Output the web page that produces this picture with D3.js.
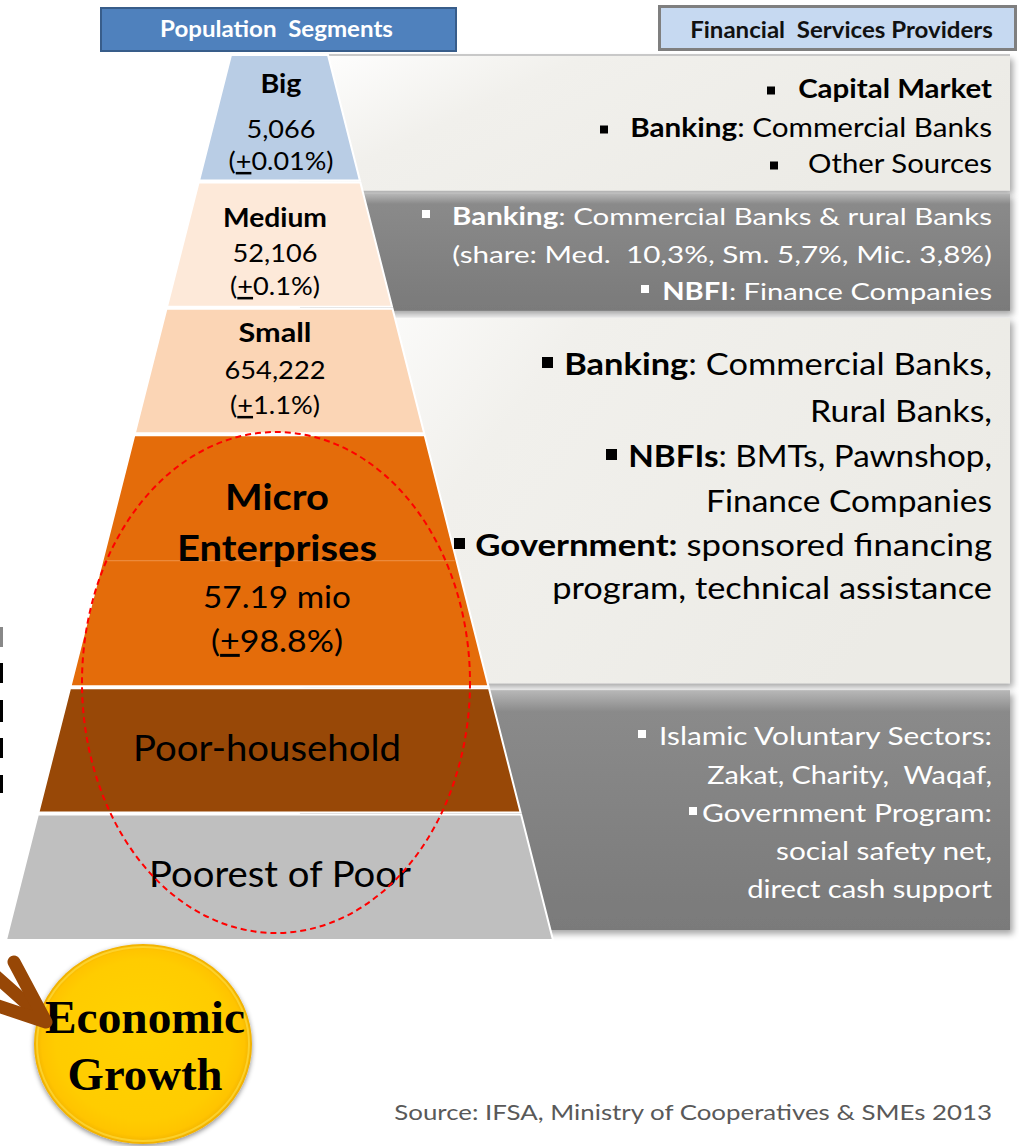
<!DOCTYPE html>
<html><head><meta charset="utf-8">
<script src="https://cdn.jsdelivr.net/npm/d3@7/dist/d3.min.js"></script>
<style>html,body{margin:0;padding:0;background:#fff;overflow:hidden}svg{display:block}text{white-space:pre}</style>
</head><body><script>
// ---------------- DATA ----------------
const segmentNames = [["Big"], ["Medium"], ["Small"], ["Micro", "Enterprises"], ["Poor-household"], ["Poorest of Poor"]];
const segmentCounts = ["5,066", "52,106", "654,222", "57.19 mio", "", ""];
const segmentGrowth = ["0.01%", "0.1%", "1.1%", "98.8%", "", ""];
const segmentSpan = [1, 1, 1, 2, 1, 1];
const headerTitles = ["Population  Segments", "Financial  Services Providers"];

const providersBig = [
  {bullet: true, parts: [["b", "Capital Market"]]},
  {bullet: true, parts: [["b", "Banking"], ["r", ": Commercial Banks"]]},
  {bullet: true, parts: [["r", "Other Sources"]]}
];
const providersMedium = [
  {bullet: true, parts: [["b", "Banking"], ["r", ": Commercial Banks & rural Banks"]]},
  {bullet: false, parts: [["r", "(share: Med.  10,3%, Sm. 5,7%, Mic. 3,8%)"]]},
  {bullet: true, parts: [["b", "NBFI"], ["r", ": Finance Companies"]]}
];
const providersSmallMicro = [
  {bullet: true, parts: [["b", "Banking"], ["r", ": Commercial Banks,"]]},
  {bullet: false, parts: [["r", "Rural Banks,"]]},
  {bullet: true, parts: [["b", "NBFIs"], ["r", ": BMTs, Pawnshop,"]]},
  {bullet: false, parts: [["r", "Finance Companies"]]},
  {bullet: true, parts: [["b", "Government:"], ["r", " sponsored financing"]]},
  {bullet: false, parts: [["r", "program, technical assistance"]]}
];
const providersPoor = [
  {bullet: true, parts: [["r", "Islamic Voluntary Sectors:"]]},
  {bullet: false, parts: [["r", "Zakat, Charity,  Waqaf,"]]},
  {bullet: true, parts: [["r", "Government Program:"]]},
  {bullet: false, parts: [["r", "social safety net,"]]},
  {bullet: false, parts: [["r", "direct cash support"]]}
];
const growthLabel = ["Economic", "Growth"];
const sourceNote = "Source: IFSA, Ministry of Cooperatives & SMEs 2013";

// ---------------- STYLE / LAYOUT ----------------
const W = 1019, H = 1146;
const FONT = "Lato, 'Open Sans', 'DejaVu Sans', sans-serif";
const SERIF = "'Liberation Serif', 'Times New Roman', serif";
const segColors = ["#b9cde5", "#fde9d9", "#fbd5b5", "#e46c0a", "#984807", "#bfbfbf"];
const labelX = [281, 275, 275, 277, 267, 280];
const labelBase = [[93, 138, 170], [227, 262, 295], [342, 379, 414], [510, 561, 608, 652], [761], [887]];
const labelSize = [[26, 25, 25], [26, 25, 25], [26, 25, 25], [37, 37, 30, 30], [36], [37]];
const labelWidth = [[41, 69, 105], [104, 85, 90], [73, 101, 90], [104, 200, 148, 132], [268], [262]];

const panels = [
  {rows: [0, 1], off: [0, 9], theme: "light", lines: providersBig, size: 26,
   base: [98, 137, 173], start: [798, 630, 808], bx: [767, 600, 770], bs: 8, bo: 7.5},
  {rows: [1, 2], off: [12, 3], theme: "dark", lines: providersMedium, size: 24,
   base: [225, 263, 300], start: [452, 452, 662], bx: [422, null, 641], bs: 8, bo: 11},
  {rows: [2, 5], off: [10, -4], theme: "light", lines: providersSmallMicro, size: 30,
   base: [375, 422, 467, 512, 556, 599], start: [564, 810, 628, 706, 475, 552], bx: [542, null, 606, null, 454, null], bs: 11, bo: 12.5},
  {rows: [5, 7], off: [3, -10], theme: "dark", lines: providersPoor, size: 25,
   base: [745, 784, 822, 860, 898], start: [659, 707, 702, 776, 747], bx: [638, null, 689, null, null], bs: 8, bo: 11}
];
const textRight = 992;

// ---------------- SCALES ----------------
const bounds = Array.from(d3.cumsum([0, ...segmentSpan]));
const y = d3.scaleLinear().domain([0, d3.sum(segmentSpan)]).range([55, 940]);
const half = d3.scaleLinear().domain([55, 940]).range([48.5, 273.5]);
const cx = 279.5;

const svg = d3.select("body").append("svg").attr("width", W).attr("height", H);
const defs = svg.append("defs");

const sh = defs.append("filter").attr("id", "sh").attr("x", "-5%").attr("y", "-10%").attr("width", "115%").attr("height", "130%");
sh.append("feDropShadow").attr("dx", 3).attr("dy", 4).attr("stdDeviation", 3).attr("flood-color", "#000").attr("flood-opacity", 0.35);
const sh2 = defs.append("filter").attr("id", "sh2").attr("x", "-20%").attr("y", "-20%").attr("width", "140%").attr("height", "140%");
sh2.append("feDropShadow").attr("dx", 0).attr("dy", 2).attr("stdDeviation", 2.5).attr("flood-color", "#000").attr("flood-opacity", 0.45);

const gl = defs.append("linearGradient").attr("id", "gLight").attr("x1", 0).attr("y1", 0).attr("x2", 1).attr("y2", 0.4);
[["0%", "#ffffff"], ["35%", "#f1f0ec"], ["100%", "#ecebe6"]].forEach(s => gl.append("stop").attr("offset", s[0]).attr("stop-color", s[1]));
const gd = defs.append("linearGradient").attr("id", "gDark").attr("x1", 0).attr("y1", 0).attr("x2", 0).attr("y2", 1);
[["0%", "#b8b8b8"], ["9%", "#8a8a8a"], ["100%", "#7a7a7a"]].forEach(s => gd.append("stop").attr("offset", s[0]).attr("stop-color", s[1]));
const gy = defs.append("radialGradient").attr("id", "gYel").attr("cx", "50%").attr("cy", "50%").attr("r", "50%").attr("fx", "50%").attr("fy", "40%");
[["0%", "#ffd200"], ["80%", "#ffcc00"], ["93%", "#ffc400"], ["100%", "#f0b000"]].forEach(s => gy.append("stop").attr("offset", s[0]).attr("stop-color", s[1]));

function placeText(parent, o) {
  const g = parent.append("g");
  const t = g.append("text").attr("text-anchor", o.anchor || "middle")
    .attr("font-family", o.family || FONT).attr("font-size", o.size).attr("fill", o.fill || "#000");
  o.parts.forEach(p => {
    t.append("tspan").attr("font-weight", p.bold ? 700 : 400)
      .attr("text-decoration", p.u ? "underline" : null).text(p.text);
  });
  const w = t.node().getComputedTextLength();
  const sx = o.width ? o.width / w : 1;
  g.attr("transform", `translate(${o.x},${o.y}) scale(${sx},1)`);
  return g;
}

// ---------------- PANELS ----------------
const gPanels = svg.append("g");
panels.forEach(p => {
  const y0 = y(p.rows[0]) + p.off[0], y1 = y(p.rows[1]) + p.off[1];
  gPanels.append("rect").attr("x", 300).attr("y", y0).attr("width", 710).attr("height", y1 - y0)
    .attr("fill", p.theme === "light" ? "url(#gLight)" : "url(#gDark)").attr("filter", "url(#sh)");
});
gPanels.append("line").attr("x1", 300).attr("x2", 1010).attr("y1", 55).attr("y2", 55).attr("stroke", "#c8c8c8").attr("stroke-width", 2);

// ---------------- PYRAMID ----------------
const gPyr = svg.append("g");
segmentNames.forEach((n, i) => {
  const t = y(bounds[i]) + (i > 0 ? 1 : 0);
  const b = y(bounds[i + 1]) - (i < segmentNames.length - 1 ? 1 : 0);
  const pts = [[cx - half(t), t], [cx + half(t), t], [cx + half(b), b], [cx - half(b), b]];
  gPyr.append("polygon").attr("points", pts.map(q => q.join(",")).join(" "))
    .attr("fill", segColors[i]).attr("stroke", "#ffffff").attr("stroke-width", 2);
});
// faint inner line in the micro layer
{
  const ym = y(bounds[3] + 1);
  gPyr.append("line").attr("x1", cx - half(ym) + 2).attr("x2", cx + half(ym) - 2).attr("y1", ym).attr("y2", ym)
    .attr("stroke", "#f3a362").attr("stroke-width", 1).attr("opacity", 0.7);
}

// labels
const gLab = svg.append("g");
segmentNames.forEach((names, i) => {
  let k = 0;
  const bold = i < 4;
  names.forEach(nm => {
    placeText(gLab, {x: labelX[i], y: labelBase[i][k], size: labelSize[i][k], width: labelWidth[i][k], parts: [{text: nm, bold}]});
    k++;
  });
  if (segmentCounts[i]) {
    placeText(gLab, {x: labelX[i], y: labelBase[i][k], size: labelSize[i][k], width: labelWidth[i][k], parts: [{text: segmentCounts[i]}]});
    k++;
  }
  if (segmentGrowth[i]) {
    placeText(gLab, {x: labelX[i], y: labelBase[i][k], size: labelSize[i][k], width: labelWidth[i][k],
      parts: [{text: "("}, {text: "+", u: true}, {text: segmentGrowth[i] + ")"}]});
  }
});

// provider texts
const gProv = svg.append("g");
panels.forEach(p => {
  const fill = p.theme === "dark" ? "#ffffff" : "#000000";
  p.lines.forEach((ln, j) => {
    placeText(gProv, {x: textRight, y: p.base[j], anchor: "end", size: p.size, width: textRight - p.start[j], fill,
      parts: ln.parts.map(q => ({text: q[1], bold: q[0] === "b"}))});
    if (ln.bullet && p.bx[j] != null) {
      gProv.append("rect").attr("x", p.bx[j]).attr("y", p.base[j] - p.bo - p.bs / 2)
        .attr("width", p.bs).attr("height", p.bs).attr("fill", fill);
    }
  });
});

// ---------------- HEADERS ----------------
const gHead = svg.append("g");
gHead.append("rect").attr("x", 101).attr("y", 8).attr("width", 355).attr("height", 43)
  .attr("fill", "#4f81bd").attr("stroke", "#385d8a").attr("stroke-width", 2);
placeText(gHead, {x: 276.5, y: 37, size: 22, width: 233, fill: "#ffffff", parts: [{text: headerTitles[0], bold: true}]});
gHead.append("rect").attr("x", 659.5).attr("y", 6.5).attr("width", 356).attr("height", 43)
  .attr("fill", "#c6d9f1").attr("stroke", "#7f7f7f").attr("stroke-width", 3);
placeText(gHead, {x: 841.5, y: 38, size: 22, width: 303, fill: "#111", parts: [{text: headerTitles[1], bold: true}]});

// ---------------- DASHED ELLIPSE ----------------
svg.append("ellipse").attr("cx", 276).attr("cy", 682.5).attr("rx", 194).attr("ry", 250.5)
  .attr("fill", "none").attr("stroke", "#ff0000").attr("stroke-width", 2).attr("stroke-dasharray", "6,4");

// ---------------- ECONOMIC GROWTH ----------------
const gEco = svg.append("g");
gEco.append("ellipse").attr("cx", 143).attr("cy", 1044).attr("rx", 109).attr("ry", 100)
  .attr("fill", "url(#gYel)").attr("filter", "url(#sh2)");
gEco.append("ellipse").attr("cx", 143).attr("cy", 1044).attr("rx", 106).attr("ry", 97)
  .attr("fill", "none").attr("stroke", "#ffe14a").attr("stroke-width", 2).attr("opacity", 0.6);
placeText(gEco, {x: 145, y: 1033, size: 46, width: 200, family: SERIF, parts: [{text: growthLabel[0], bold: true}]});
placeText(gEco, {x: 145, y: 1090, size: 46, width: 155, family: SERIF, parts: [{text: growthLabel[1], bold: true}]});

// arrow
const arrow = svg.append("g").attr("fill", "none").attr("stroke", "#974706").attr("stroke-width", 13).attr("stroke-linecap", "round").attr("stroke-linejoin", "round");
arrow.append("path").attr("d", d3.line()([[-90, 900], [44, 1019]]));
arrow.append("path").attr("d", d3.line()([[14, 962], [46, 1022], [-8, 1004]]));

// left-edge marks (clipped text remnants)
[[627, 647, "#888"], [663, 683, "#000"], [700, 722, "#000"], [738, 758, "#000"], [775, 793, "#000"]].forEach(m => {
  svg.append("rect").attr("x", 0).attr("y", m[0]).attr("width", 3).attr("height", m[1] - m[0]).attr("fill", m[2]);
});

// source
placeText(svg, {x: 992, y: 1120, anchor: "end", size: 22, width: 598, fill: "#595959", parts: [{text: sourceNote}]});
</script></body></html>
